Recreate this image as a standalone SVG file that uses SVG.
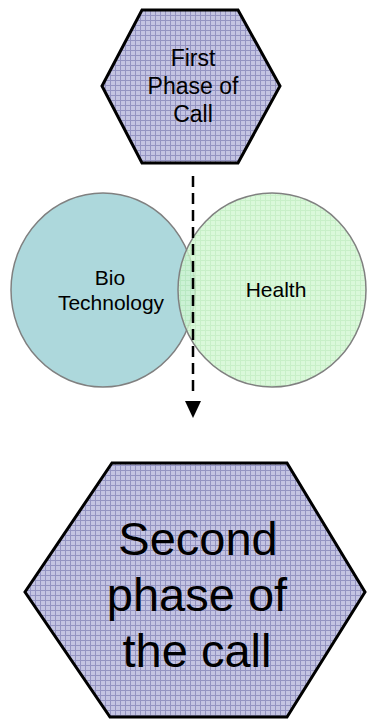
<svg xmlns="http://www.w3.org/2000/svg" width="367" height="719" viewBox="0 0 367 719">
<style>
.hex{stroke:#000;stroke-width:3;stroke-linejoin:miter;fill:url(#lav)}
.circ{stroke:#808080;stroke-width:1.5}
.lbl{font-family:"Liberation Sans",Arial,sans-serif;fill:#000;text-anchor:middle}
.conn{stroke:#000;stroke-width:2.5;stroke-dasharray:11 6;fill:none}
</style>
<defs>
<pattern id="lav" width="5" height="5" patternUnits="userSpaceOnUse">
<rect width="5" height="5" fill="#c4c4e2"/>
<path d="M0 0.5H5M0.5 0V5" stroke="#9494c2" stroke-width="1"/>
</pattern>
<pattern id="grn" width="5" height="5" patternUnits="userSpaceOnUse">
<rect width="5" height="5" fill="#d2f6d2"/>
<path d="M0 0.5H5M0.5 0V5" stroke="#bcecbc" stroke-width="1"/>
</pattern>
</defs>
<rect width="367" height="719" fill="#fff"/>
<g id="first-phase">
<polygon class="hex" points="142,10 238,10 280,86 238,163 142,163 102,86"/>
<text class="lbl" font-size="23" x="193" y="66">First</text>
<text class="lbl" font-size="23" x="193" y="94">Phase of</text>
<text class="lbl" font-size="23" x="193" y="122">Call</text>
</g>
<g id="biotech">
<ellipse class="circ" cx="103" cy="290" rx="92" ry="97" fill="#add8dc"/>
<text class="lbl" font-size="21" x="110" y="285">Bio</text>
<text class="lbl" font-size="21" x="111" y="310">Technology</text>
</g>
<g id="health">
<ellipse class="circ" cx="272" cy="290" rx="94" ry="97" fill="url(#grn)" fill-opacity="0.82"/>
<text class="lbl" font-size="21" x="276" y="297">Health</text>
</g>
<g id="connectors">
<line class="conn" x1="193" y1="176" x2="193" y2="396"/>
<polygon points="185,401 201,401 193,418" fill="#000"/>
</g>
<g id="second-phase">
<polygon class="hex" points="112,463 287,463 365,592 287,717 110,717 25,592"/>
<text class="lbl" font-size="47" x="198" y="555">Second</text>
<text class="lbl" font-size="47" x="197" y="611">phase of</text>
<text class="lbl" font-size="47" x="197" y="667">the call</text>
</g>
</svg>
